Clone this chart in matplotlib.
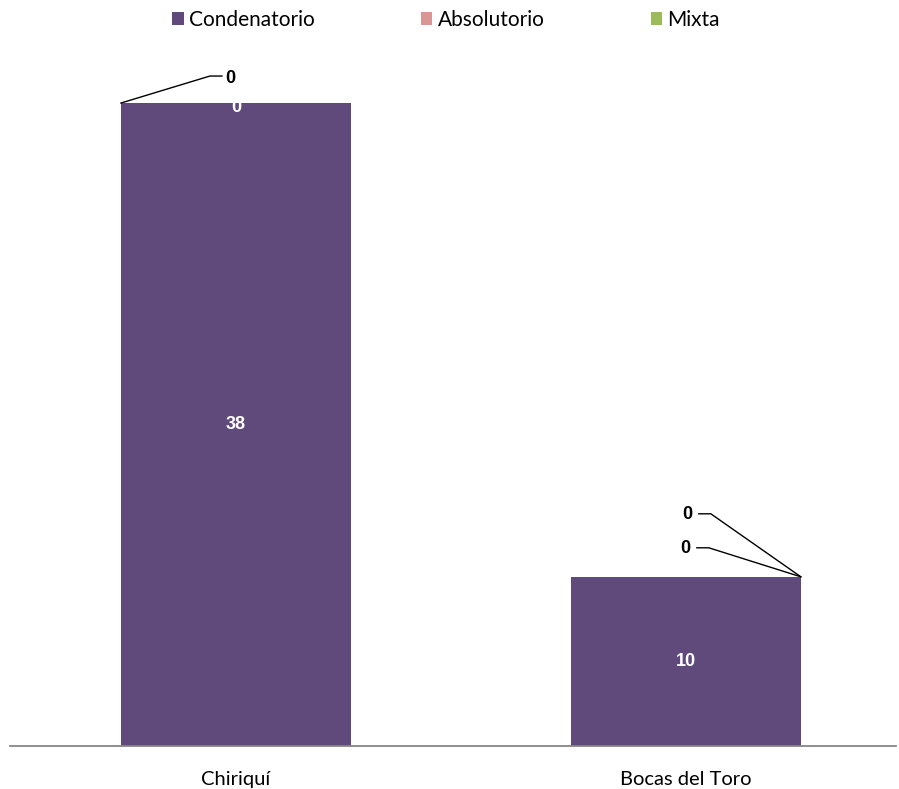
import matplotlib.pyplot as plt
import numpy as np
from matplotlib.patches import Patch

# Data
categories = ["Chiriquí", "Bocas del Toro"]
condenatorio = [38, 10]
absolutorio = [0, 0]
mixta = [0, 0]
series_names = ["Condenatorio", "Absolutorio", "Mixta"]
colors = ["#604A7B", "#D99694", "#9BBB59"]

plt.rcParams['font.family'] = ['Lato', 'DejaVu Sans']
num_font = ['Liberation Sans', 'DejaVu Sans']

W, H = 899, 789
fig = plt.figure(figsize=(W / 100, H / 100), dpi=100)
ax = fig.add_axes([10 / W, 43 / H, 886 / W, 706 / H])

x = np.arange(len(categories))
width = 0.511
b1 = np.array(condenatorio)
b2 = b1 + np.array(absolutorio)
ax.bar(x, condenatorio, width, color=colors[0])
ax.bar(x, absolutorio, width, bottom=b1, color=colors[1])
ax.bar(x, mixta, width, bottom=b2, color=colors[2])

ax.set_xlim(-0.502, 1.467)
ax.set_ylim(0, 706 / 16.92)
for s in ["top", "right", "left"]:
    ax.spines[s].set_visible(False)
ax.spines["bottom"].set_color("#868686")
ax.spines["bottom"].set_linewidth(1.3)
ax.set_yticks([])
ax.set_xticks(x)
ax.set_xticklabels(categories, fontsize=14.5)
ax.tick_params(axis="x", length=0, pad=18)

# white labels inside the bars
for i, v in enumerate(condenatorio):
    ax.text(x[i], v / 2, str(v), color="white", fontsize=13, fontweight="bold",
            family=num_font, ha="center", va="center")
ax.annotate(str(absolutorio[0]), xy=(x[0], b1[0]), xytext=(0, -4),
            textcoords="offset pixels", color="white", fontsize=13,
            fontweight="bold", family=num_font, ha="center", va="center")

# labels with leader lines (pixel offsets from bar corner)
def leader(xc, yc, value, text_off, line_pts):
    px, py = ax.transData.transform((xc, yc))
    xs = [px + p[0] for p in line_pts]
    ys = [py + p[1] for p in line_pts]
    ax.plot(xs, ys, color="black", lw=1, transform=None, clip_on=False)
    ax.annotate(str(value), xy=(xc, yc), xytext=text_off,
                textcoords="offset pixels", fontsize=13, fontweight="bold",
                family=num_font, ha="center", va="center", annotation_clip=False)

left0 = x[0] - width / 2
right1 = x[1] + width / 2
leader(left0, b2[0], mixta[0], (109, 25), [(0, 0), (89, 27), (101, 27)])
leader(right1, b2[1], mixta[1], (-114, 62), [(0, 0), (-90, 63), (-102, 63)])
leader(right1, b1[1], absolutorio[1], (-116, 28), [(0, 0), (-92, 29), (-104, 29)])

handles = [Patch(facecolor=c) for c in colors]
fig.legend(handles, series_names, loc="center", bbox_to_anchor=(446 / W, 1 - 20 / H),
           ncol=3, frameon=False, fontsize=15, handlelength=0.55, handleheight=0.55,
           handletextpad=0.25, columnspacing=5.1)

fig.savefig("out.png", dpi=100)
